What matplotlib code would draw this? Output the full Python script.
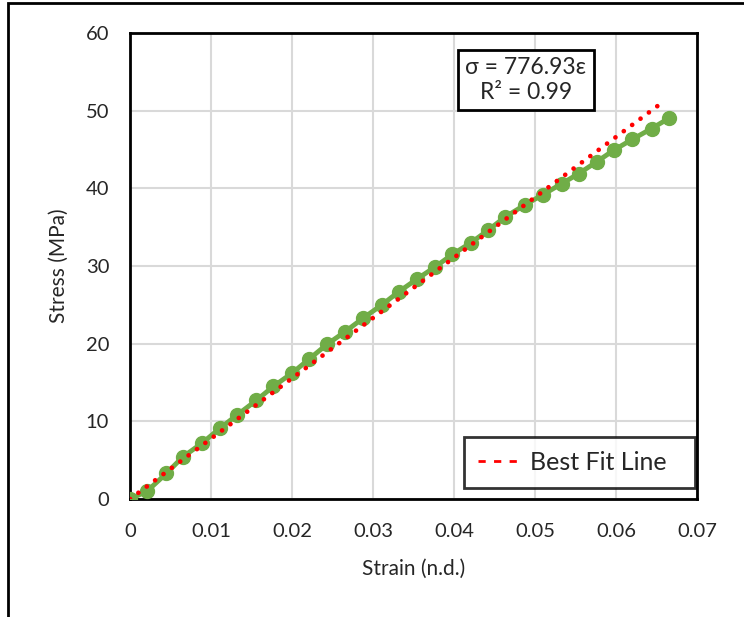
import matplotlib
matplotlib.use("Agg")
import matplotlib.pyplot as plt
from matplotlib.patches import Rectangle

plt.rcParams['font.family'] = ['Lato', 'DejaVu Sans']

# measured stress-strain points
strain = [0, 0.0021, 0.0045, 0.0065, 0.0089, 0.0111, 0.0132, 0.0156, 0.0177,
          0.0200, 0.0221, 0.0243, 0.0265, 0.0288, 0.0311, 0.0332, 0.0354,
          0.0377, 0.0398, 0.0421, 0.0442, 0.0463, 0.0488, 0.0510, 0.0533,
          0.0554, 0.0576, 0.0597, 0.0620, 0.0644, 0.0665]
stress = [0, 1.0, 3.3, 5.4, 7.2, 9.1, 10.8, 12.7, 14.5, 16.2, 18.0, 19.9,
          21.5, 23.3, 25.0, 26.7, 28.3, 29.9, 31.5, 33.0, 34.6, 36.3, 37.9,
          39.2, 40.6, 41.9, 43.4, 44.9, 46.3, 47.7, 49.0]

# best fit slope (sigma = E * eps)
modulus = 776.93
fit_x = [0, 0.0658]
fit_y = [modulus * v for v in fit_x]

x_ticks = [0, 0.01, 0.02, 0.03, 0.04, 0.05, 0.06, 0.07]
x_labels = ['0', '0.01', '0.02', '0.03', '0.04', '0.05', '0.06', '0.07']
y_ticks = [0, 10, 20, 30, 40, 50, 60]

fig = plt.figure(figsize=(7.44, 6.17), dpi=100)
ax = fig.add_axes([130 / 744, 1 - 499 / 617, 567 / 744, 466 / 617])

# outer frame of the screenshot (top and left edges only visible)
fig.patches.append(Rectangle((8 / 744, -0.1), 1.2, 1.1 - 3 / 617,
                             transform=fig.transFigure, fill=False,
                             edgecolor='black', linewidth=2))

green = '#70AD47'
ax.plot(strain, stress, color=green, linewidth=3.5, marker='o',
        markersize=10, markeredgecolor=green, zorder=3)

ax.plot(fit_x, fit_y, color='red', linewidth=3.4,
        linestyle=(0, (0.01, 2.2)), dash_capstyle='round', zorder=4,
        label='Best Fit Line')

ax.set_xlim(0, 0.07)
ax.set_ylim(0, 60)
ax.set_xticks(x_ticks)
ax.set_xticklabels(x_labels)
ax.set_yticks(y_ticks)
ax.tick_params(length=0, labelsize=14.5, colors='#262626')
ax.tick_params(axis='x', pad=17)
ax.tick_params(axis='y', pad=15)

ax.grid(True, color='#D9D9D9', linewidth=1.5)
ax.set_axisbelow(True)
for sp in ax.spines.values():
    sp.set_color('black')
    sp.set_linewidth(2)

ax.set_xlabel('Strain (n.d.)', fontsize=15, color='#262626', labelpad=14)
ax.set_ylabel('Stress (MPa)', fontsize=15, color='#262626', labelpad=12)

ax.text(0.698, 0.899, 'σ = 776.93ε\nR² = 0.99', transform=ax.transAxes,
        ha='center', va='center', fontsize=16.5, linespacing=1.2,
        color='#262626', zorder=5,
        bbox=dict(boxstyle='square,pad=0.32', facecolor='white',
                  edgecolor='black', linewidth=2))

leg = ax.legend(loc='lower left', bbox_to_anchor=(0.589, 0.024, 0.407, 0.11),
                mode='expand', fontsize=18, frameon=True, fancybox=False,
                handlelength=1.6, handletextpad=0.5, borderpad=0.55,
                borderaxespad=0)
leg.get_frame().set_edgecolor('black')
leg.get_frame().set_linewidth(2)
for t in leg.get_texts():
    t.set_color('#262626')
h = leg.get_lines()[0]
h.set_linewidth(2)
h.set_dash_capstyle('butt')
h.set_linestyle((0, (2.6, 3.0)))

fig.savefig('out.png', dpi=100)
